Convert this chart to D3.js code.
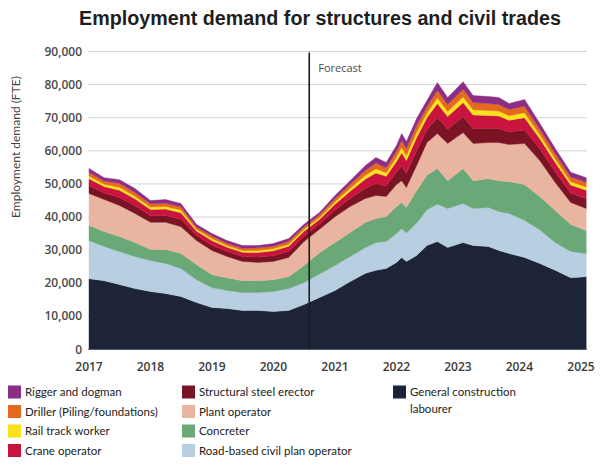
<!DOCTYPE html>
<html>
<head>
<meta charset="utf-8">
<script src="https://cdn.jsdelivr.net/npm/d3@7"></script>
<style>
  body { margin: 0; background: #fff; }
  svg { display: block; }
</style>
</head>
<body>
<svg id="chart" width="603" height="466"></svg>
<script>
// Observation months (actuals, then forecast from Aug 2020)
const months = ["2017-01","2017-04","2017-07","2017-10","2018-01","2018-04","2018-07","2018-10",
  "2019-01","2019-04","2019-07","2019-10","2020-01","2020-04","2020-07","2020-10",
  "2021-01","2021-04","2021-07","2021-09","2021-11","2022-01","2022-02","2022-03",
  "2022-05","2022-07","2022-09","2022-11","2023-02","2023-04","2023-07","2023-09",
  "2023-11","2024-02","2024-05","2024-08","2024-11","2025-02"];

// Employment demand by trade (FTE), bottom of the stack first
const generalLabourer = [21400,20800,19600,18400,17500,16900,16000,14200,12700,12400,11800,11800,11500,11800,13600,15700,17800,20500,23000,23900,24500,26300,27800,26600,28400,31400,32600,30800,32300,31400,31100,29900,29000,27800,26000,23900,21700,22000];
const roadPlantOperator = [11500,10300,10000,9700,9400,9100,8500,6900,6000,5400,5400,5400,6000,6600,6600,7100,7600,7600,7800,8400,8100,8700,8700,8600,9800,10800,11300,11800,11800,11200,11800,11800,12100,11200,10200,8400,7900,7000];
const concreter = [4600,4500,4500,4200,3300,4200,4500,4600,3900,3900,3600,3600,3600,3600,5200,6400,6900,7200,7600,7300,7600,8200,7900,7700,9800,10400,10800,8400,10600,8400,8700,9300,9600,10800,10000,9700,8200,6900];
const plantOperator = [9600,9700,9400,8800,8200,8200,8100,7200,7300,6400,5800,5500,5500,5800,7200,7100,7800,7900,7200,6900,6000,6600,6600,6000,7600,9900,10500,11200,10800,11200,10900,11500,11200,12400,10900,8400,6600,6700];
const steelErector = [2400,2000,2400,2300,2000,2100,2200,1500,1600,1500,1500,1600,1700,1800,1600,1600,2000,2400,3100,3600,3200,3700,4400,4300,4400,3900,4800,4300,4800,4500,4300,4200,3800,4100,3500,3200,2800,2900];
const craneOperator = [2100,1900,2200,2100,1900,1900,2000,1400,1400,1300,1300,1400,1500,1600,1500,1400,1800,2200,2800,3200,2900,3300,4000,3900,4000,3600,4300,3900,4300,4100,3900,3800,3500,3700,3100,2900,2500,2600];
const railTrackWorker = [800,700,900,800,700,800,800,500,600,500,500,600,600,600,600,600,700,900,1100,1300,1100,1300,1600,1500,1600,1400,1700,1500,1700,1600,1500,1500,1400,1500,1200,1100,1000,1000];
const driller = [1100,1000,1200,1100,1000,1000,1000,700,800,700,700,800,800,900,800,800,1000,1200,1500,1700,1500,1800,2100,2100,2100,1900,2300,2100,2300,2200,2100,2000,1900,2000,1700,1500,1400,1400];
const riggerDogman = [1200,1000,1100,1200,1000,1100,1000,800,700,800,800,700,800,800,700,700,900,1100,1500,1700,1600,1700,2100,2100,2100,1900,2300,2100,2300,2100,2100,2100,1800,2000,1700,1600,1400,1400];

const yTicks = [0,10000,20000,30000,40000,50000,60000,70000,80000,90000];
const yearTicks = ["2017","2018","2019","2020","2021","2022","2023","2024","2025"];
const forecastStart = "2020-08";

const series = [
  { key: "general",  label: "General construction labourer", values: generalLabourer,   color: "#1d2438" },
  { key: "road",     label: "Road-based civil plan operator", values: roadPlantOperator, color: "#b7cfe0" },
  { key: "concrete", label: "Concreter",                      values: concreter,         color: "#6aa877" },
  { key: "plant",    label: "Plant operator",                 values: plantOperator,     color: "#e9b5a0" },
  { key: "steel",    label: "Structural steel erector",       values: steelErector,      color: "#7a1424" },
  { key: "crane",    label: "Crane operator",                 values: craneOperator,     color: "#c8143f" },
  { key: "rail",     label: "Rail track worker",              values: railTrackWorker,   color: "#f7e21b" },
  { key: "driller",  label: "Driller (Piling/foundations)",   values: driller,           color: "#e46a1f" },
  { key: "rigger",   label: "Rigger and dogman",              values: riggerDogman,      color: "#8c2d86" }
];

const parseMonth = d3.timeParse("%Y-%m");
const parseYear = d3.timeParse("%Y");

const rows = months.map((m, i) => {
  const row = { date: parseMonth(m) };
  series.forEach(s => { row[s.key] = s.values[i]; });
  return row;
});

const svg = d3.select("#chart");
svg.append("rect").attr("width", 603).attr("height", 466).attr("fill", "#fff");

const x = d3.scaleTime()
  .domain([parseYear("2017"), parseYear("2025")])
  .range([89, 581]);
const y = d3.scaleLinear().domain([0, 90000]).range([349.5, 51.5]);

const plotLeft = 88, plotRight = 587;

// Title, sized to its measured width
svg.append("text")
  .attr("x", 320).attr("y", 25)
  .attr("text-anchor", "middle")
  .attr("font-family", "Liberation Sans, Arial, sans-serif")
  .attr("font-weight", "bold")
  .attr("font-size", 20)
  .attr("fill", "#1e1e1e")
  .text("Employment demand for structures and civil trades")
  .each(function () {
    const w = this.getComputedTextLength();
    const target = 482;
    d3.select(this).attr("font-size", 20 * target / w);
  });

// Horizontal gridlines
svg.append("g")
  .selectAll("line")
  .data(yTicks.filter(t => t > 0))
  .join("line")
  .attr("x1", plotLeft).attr("x2", plotRight)
  .attr("y1", d => y(d)).attr("y2", d => y(d))
  .attr("stroke", "#d4d4d4")
  .attr("stroke-width", 1);

// Stacked areas
const stack = d3.stack().keys(series.map(s => s.key));
const layers = stack(rows);
const area = d3.area()
  .x(d => x(d.data.date))
  .y0(d => y(d[0]))
  .y1(d => y(d[1]))
  .curve(d3.curveLinear);

svg.append("g")
  .selectAll("path")
  .data(layers)
  .join("path")
  .attr("d", area)
  .attr("fill", (d, i) => series[i].color)
  .attr("stroke", (d, i) => series[i].color)
  .attr("stroke-width", 0.4);

// Baseline
svg.append("line")
  .attr("x1", plotLeft).attr("x2", plotRight)
  .attr("y1", y(0)).attr("y2", y(0))
  .attr("stroke", "#5a6070").attr("stroke-width", 1);

// Forecast divider
const fx = x(parseMonth(forecastStart));
svg.append("line")
  .attr("x1", fx).attr("x2", fx)
  .attr("y1", y(90000) + 1).attr("y2", y(0))
  .attr("stroke", "#1a1a1a").attr("stroke-width", 1.6);
svg.append("text")
  .attr("x", fx + 9).attr("y", 72)
  .attr("font-family", "Open Sans, sans-serif")
  .attr("font-size", 11)
  .attr("fill", "#4a4a4a")
  .text("Forecast");

// Y axis labels
const fmt = d3.format(",");
svg.append("g")
  .selectAll("text")
  .data(yTicks)
  .join("text")
  .attr("x", 82).attr("y", d => y(d) + 4)
  .attr("text-anchor", "end")
  .attr("font-family", "Open Sans, sans-serif")
  .attr("font-weight", 600)
  .attr("font-size", 12)
  .attr("fill", "#4a4a4a")
  .text(d => fmt(d));

svg.append("text")
  .attr("transform", "translate(20,147) rotate(-90)")
  .attr("text-anchor", "middle")
  .attr("font-family", "Lato, sans-serif")
  .attr("font-size", 12)
  .attr("fill", "#444")
  .text("Employment demand (FTE)");

// X axis labels
svg.append("g")
  .selectAll("text")
  .data(yearTicks)
  .join("text")
  .attr("x", d => x(parseYear(d)))
  .attr("y", 371)
  .attr("text-anchor", "middle")
  .attr("font-family", "Open Sans, sans-serif")
  .attr("font-weight", 600)
  .attr("font-size", 12)
  .attr("fill", "#3a3a3a")
  .text(d => d);

// Legend
const byKey = Object.fromEntries(series.map(s => [s.key, s]));
const legendCols = [
  { x: 8,   keys: ["rigger", "driller", "rail", "crane"] },
  { x: 182, keys: ["steel", "plant", "concrete", "road"] },
  { x: 393, keys: ["general"] }
];
const rowY = [392, 411.5, 431, 450.5];
const legend = svg.append("g");
legendCols.forEach(col => {
  col.keys.forEach((k, i) => {
    const s = byKey[k];
    const g = legend.append("g").attr("transform", `translate(${col.x},${rowY[i]})`);
    g.append("rect")
      .attr("x", 0).attr("y", -6.5)
      .attr("width", 13).attr("height", 13)
      .attr("fill", s.color);
    const t = g.append("text")
      .attr("x", 17).attr("y", 4)
      .attr("font-family", "Lato, sans-serif")
      .attr("font-size", 11.5)
      .attr("fill", "#222");
    if (k === "general") {
      t.append("tspan").attr("x", 17).text("General construction");
      t.append("tspan").attr("x", 17).attr("dy", 17).text("labourer");
    } else {
      t.text(s.label);
    }
  });
});
</script>
</body>
</html>
